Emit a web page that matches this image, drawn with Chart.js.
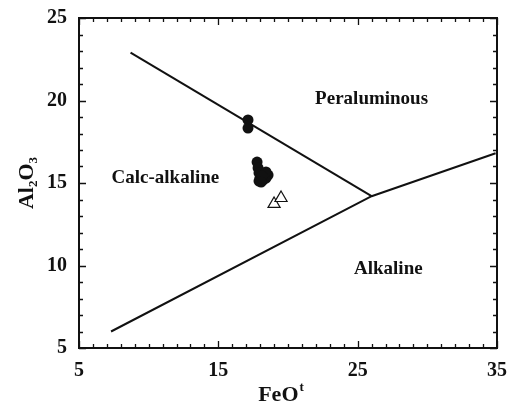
<!DOCTYPE html>
<html>
<head>
<meta charset="utf-8">
<script src="https://cdn.jsdelivr.net/npm/chart.js@4/dist/chart.umd.min.js"></script>
<style>
    html, body { margin: 0; padding: 0; background: #fff; }
    #wrap { width: 515px; height: 407px; }
</style>
</head>
<body>
<div id="wrap"><canvas id="chart"></canvas></div>
<script>

// discrimination lines (FeOt, Al2O3)
const upperLineX = [8.7, 26.0];
const upperLineY = [22.9, 14.2];
const lowerLineX = [7.3, 26.0, 34.9];
const lowerLineY = [6.0, 14.2, 16.8];

// samples, filled circles
const circleFeO = [17.13, 17.13, 17.78, 17.85, 17.92, 17.99, 17.92, 18.21, 18.42, 18.57, 18.42, 18.14, 18.07];
const circleAl = [18.82, 18.33, 16.27, 15.91, 15.61, 15.30, 15.12, 15.18, 15.30, 15.48, 15.67, 15.42, 15.06];

// samples, open triangles
const triFeO = [19.0, 19.5];
const triAl = [13.73, 14.09];

const xLabels = [5, 15, 25, 35];
const yLabels = [5, 10, 15, 20, 25];

const regionNames = ['Peraluminous', 'Calc-alkaline', 'Alkaline'];
const regionX = [26.0, 11.2, 27.2];
const regionY = [20.1, 15.3, 9.8];

const serif = '"Liberation Serif", "Times New Roman", serif';

function pts(xs, ys) {
    return xs.map((x, i) => ({ x: x, y: ys[i] }));
}

// inward ticks, frame, region names and axis titles
const decor = {
    id: 'decor',
    afterDraw(chart) {
        const c = chart.ctx;
        const a = chart.chartArea;
        const xs = chart.scales.x;
        const ys = chart.scales.y;
        c.save();
        c.strokeStyle = '#111';
        c.lineWidth = 2;
        c.strokeRect(a.left, a.top, a.right - a.left, a.bottom - a.top);

        c.lineWidth = 1.3;
        c.beginPath();
        xs.ticks.forEach(t => {
            const px = Math.round(xs.getPixelForValue(t.value)) + 0.5;
            const len = xLabels.includes(t.value) ? 7 : 4;
            c.moveTo(px, a.bottom); c.lineTo(px, a.bottom - len);
            c.moveTo(px, a.top); c.lineTo(px, a.top + len);
        });
        ys.ticks.forEach(t => {
            const py = Math.round(ys.getPixelForValue(t.value)) + 0.5;
            const len = yLabels.includes(t.value) ? 7 : 4;
            c.moveTo(a.left, py); c.lineTo(a.left + len, py);
            c.moveTo(a.right, py); c.lineTo(a.right - len, py);
        });
        c.stroke();

        c.fillStyle = '#111';
        c.font = 'bold 19px ' + serif;
        c.textAlign = 'center';
        c.textBaseline = 'middle';
        regionNames.forEach((n, i) => {
            c.fillText(n, xs.getPixelForValue(regionX[i]), ys.getPixelForValue(regionY[i]));
        });

        // x title FeO^t
        c.textBaseline = 'alphabetic';
        c.textAlign = 'left';
        c.font = 'bold 22px ' + serif;
        const w1 = c.measureText('FeO').width;
        c.font = 'bold 13px ' + serif;
        const w2 = c.measureText('t').width;
        let x0 = 281 - (w1 + w2 + 1) / 2;
        c.font = 'bold 22px ' + serif;
        c.fillText('FeO', x0, 401);
        c.font = 'bold 13px ' + serif;
        c.fillText('t', x0 + w1 + 1, 391);

        // y title Al2O3
        c.translate(33, 183);
        c.rotate(-Math.PI / 2);
        const parts = [['Al', 22, 0], ['2', 13, 4], ['O', 22, 0], ['3', 13, 4]];
        let total = 0;
        parts.forEach(p => { c.font = 'bold ' + p[1] + 'px ' + serif; total += c.measureText(p[0]).width; });
        let cx = -total / 2;
        parts.forEach(p => {
            c.font = 'bold ' + p[1] + 'px ' + serif;
            c.fillText(p[0], cx, p[2]);
            cx += c.measureText(p[0]).width;
        });
        c.restore();
    }
};

new Chart(document.getElementById('chart'), {
    type: 'scatter',
    data: {
        datasets: [
            {
                data: pts(upperLineX, upperLineY),
                showLine: true,
                borderColor: '#111',
                borderWidth: 2,
                pointRadius: 0
            },
            {
                data: pts(lowerLineX, lowerLineY),
                showLine: true,
                borderColor: '#111',
                borderWidth: 2,
                pointRadius: 0
            },
            {
                data: pts(circleFeO, circleAl),
                pointStyle: 'circle',
                pointRadius: 5.5,
                backgroundColor: '#111',
                borderColor: '#111',
                borderWidth: 0
            },
            {
                data: pts(triFeO, triAl),
                pointStyle: 'triangle',
                pointRadius: 7,
                backgroundColor: '#fff',
                borderColor: '#111',
                borderWidth: 1.2
            }
        ]
    },
    options: {
        responsive: true,
        maintainAspectRatio: false,
        animation: false,
        layout: { padding: { top: 18, right: 18, left: 0, bottom: 0 } },
        plugins: {
            legend: { display: false },
            tooltip: { enabled: false }
        },
        scales: {
            x: {
                type: 'linear',
                min: 5,
                max: 35,
                grid: { display: false },
                border: { display: false },
                afterFit: s => { s.height = 59; },
                ticks: {
                    stepSize: 1,
                    autoSkip: false,
                    maxRotation: 0,
                    padding: 3,
                    color: '#111',
                    font: { family: serif, size: 20, weight: 'bold' },
                    callback: v => xLabels.includes(v) ? String(v) : ''
                }
            },
            y: {
                type: 'linear',
                min: 5,
                max: 25,
                grid: { display: false },
                border: { display: false },
                afterFit: s => { s.width = 79; },
                ticks: {
                    stepSize: 1,
                    autoSkip: false,
                    padding: 4,
                    color: '#111',
                    font: { family: serif, size: 20, weight: 'bold' },
                    callback: v => yLabels.includes(v) ? String(v) : ''
                }
            }
        }
    },
    plugins: [decor]
});

</script>
</body>
</html>
